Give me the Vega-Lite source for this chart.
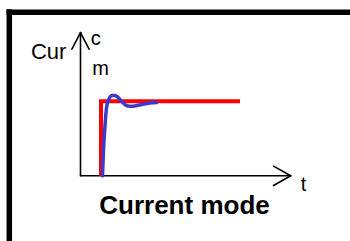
{
  "$schema": "https://vega.github.io/schema/vega-lite/v6.json",
  "width": 350,
  "height": 241,
  "autosize": {"type": "none"},
  "padding": 0,
  "background": "white",
  "config": {"view": {"stroke": null}},
  "datasets": {
    "frame": [
      {"t": -3.7, "I": 2.183, "t2": 13.475, "I2": 2.183},
      {"t": -3.56, "I": 2.222, "t2": -3.56, "I2": -0.87}
    ],
    "axes": [
      {"t": 0, "I": 0, "t2": 0, "I2": 1.911},
      {"t": 0, "I": 1.911, "t2": -0.43, "I2": 1.69},
      {"t": 0, "I": 1.911, "t2": 0.43, "I2": 1.69},
      {"t": 0, "I": 0, "t2": 10.51, "I2": 0},
      {"t": 10.51, "I": 0, "t2": 9.65, "I2": 0.13},
      {"t": 10.51, "I": 0, "t2": 9.65, "I2": -0.13}
    ],
    "step": [
      {"t": 1.025, "I": 0},
      {"t": 1.025, "I": 0.996},
      {"t": 7.975, "I": 0.996}
    ],
    "resp": [
      {"t": 1.1, "I": 0},
      {"t": 1.15, "I": 0.347},
      {"t": 1.225, "I": 0.667},
      {"t": 1.3, "I": 0.907},
      {"t": 1.425, "I": 1.027},
      {"t": 1.575, "I": 1.073},
      {"t": 1.725, "I": 1.073},
      {"t": 1.875, "I": 1.047},
      {"t": 2.075, "I": 0.987},
      {"t": 2.275, "I": 0.94},
      {"t": 2.475, "I": 0.927},
      {"t": 2.725, "I": 0.933},
      {"t": 3.075, "I": 0.953},
      {"t": 3.475, "I": 0.973},
      {"t": 3.825, "I": 0.98}
    ],
    "cur": [
      {"label": "Cur", "t": -2.48, "I": 1.556}
    ],
    "labels": [
      {"label": "c", "t": 0.51, "I": 1.747},
      {"label": "m", "t": 0.59, "I": 1.347},
      {"label": "t", "t": 11.01, "I": -0.2}
    ],
    "title": [
      {"label": "Current mode", "t": 5.2, "I": -0.513}
    ]
  },
  "layer": [
    {
      "data": {"name": "frame"},
      "mark": {"type": "rule", "color": "black", "strokeWidth": 5.5, "strokeCap": "butt"},
      "encoding": {
        "x": {"field": "t", "type": "quantitative", "scale": {"domain": [-4.025, 13.475], "nice": false, "zero": false}, "axis": null},
        "y": {"field": "I", "type": "quantitative", "scale": {"domain": [-0.87, 2.3467], "nice": false, "zero": false}, "axis": null},
        "x2": {"field": "t2"},
        "y2": {"field": "I2"}
      }
    },
    {
      "data": {"name": "axes"},
      "mark": {"type": "rule", "color": "black", "strokeWidth": 1.6, "strokeCap": "round"},
      "encoding": {
        "x": {"field": "t", "type": "quantitative"},
        "y": {"field": "I", "type": "quantitative"},
        "x2": {"field": "t2"},
        "y2": {"field": "I2"}
      }
    },
    {
      "data": {"name": "step"},
      "mark": {"type": "line", "color": "#ff0000", "strokeWidth": 4, "strokeJoin": "miter", "strokeCap": "butt"},
      "encoding": {
        "x": {"field": "t", "type": "quantitative"},
        "y": {"field": "I", "type": "quantitative"},
        "order": {"field": "I", "type": "quantitative"}
      }
    },
    {
      "data": {"name": "resp"},
      "mark": {"type": "line", "color": "#3a3acc", "strokeWidth": 3.5, "interpolate": "monotone", "strokeCap": "round"},
      "encoding": {
        "x": {"field": "t", "type": "quantitative"},
        "y": {"field": "I", "type": "quantitative"}
      }
    },
    {
      "data": {"name": "cur"},
      "mark": {"type": "text", "align": "left", "baseline": "alphabetic", "font": "Liberation Sans", "fontSize": 22, "color": "black"},
      "encoding": {
        "x": {"field": "t", "type": "quantitative"},
        "y": {"field": "I", "type": "quantitative"},
        "text": {"field": "label"}
      }
    },
    {
      "data": {"name": "labels"},
      "mark": {"type": "text", "align": "left", "baseline": "alphabetic", "font": "Liberation Sans", "fontSize": 20, "color": "black"},
      "encoding": {
        "x": {"field": "t", "type": "quantitative"},
        "y": {"field": "I", "type": "quantitative"},
        "text": {"field": "label"}
      }
    },
    {
      "data": {"name": "title"},
      "mark": {"type": "text", "align": "center", "baseline": "alphabetic", "font": "Liberation Sans", "fontSize": 26, "fontWeight": "bold", "color": "black"},
      "encoding": {
        "x": {"field": "t", "type": "quantitative"},
        "y": {"field": "I", "type": "quantitative"},
        "text": {"field": "label"}
      }
    }
  ]
}
